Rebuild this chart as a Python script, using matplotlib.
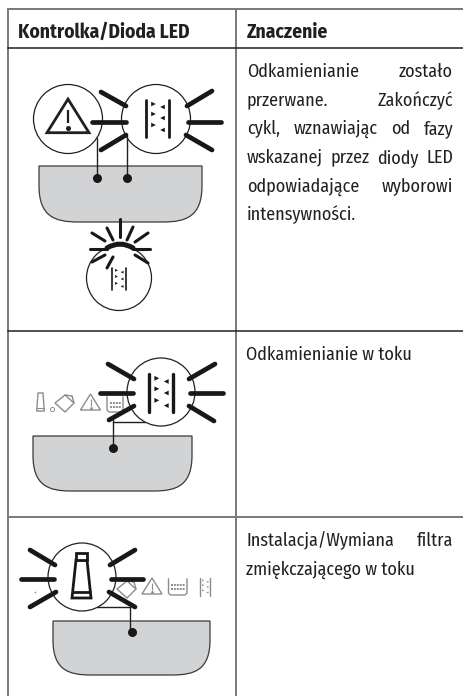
import matplotlib
matplotlib.use('Agg')
import matplotlib.pyplot as plt
import matplotlib.font_manager as fm
from matplotlib.patches import Circle, PathPatch, Polygon, Rectangle
from matplotlib.path import Path

# narrowest look available, Lato if no condensed face is there
names = {f.name for f in fm.fontManager.ttflist}
condensed = ['Fira Sans Condensed', 'Roboto Condensed', 'PT Sans Narrow', 'Archivo Narrow']
FONT = [n for n in condensed if n in names][:1] + ['Lato', 'DejaVu Sans']
TEXT_SIZE = 13.0 if FONT[0] != 'Lato' else 12.0
HEAD_SIZE = 14.0 if FONT[0] != 'Lato' else 14.0

headers = ['Kontrolka/Dioda LED', 'Znaczenie']
row1_lines = ['Odkamienianie zostało', 'przerwane. Zakończyć', 'cykl, wznawiając od fazy',
              'wskazanej przez diody LED', 'odpowiadające wyborowi', 'intensywności.']
row1_justified = [True, True, True, True, True, False]
row2_lines = ['Odkamienianie w toku']
row3_lines = ['Instalacja/Wymiana filtra', 'zmiękczającego w toku']
row3_justified = [True, False]

DARK = '#231f20'
BLACK = '#1a1718'
GREY = '#77787a'
LIGHT = '#8a8c8e'
PANEL = '#d1d3d4'

fig = plt.figure(figsize=(4.63, 6.96), dpi=100)
ax = fig.add_axes([0, 0, 1, 1])
ax.set_xlim(0, 463)
ax.set_ylim(696, 0)
ax.axis('off')


def seg(x0, y0, x1, y1, lw=3.4, color=BLACK, cap='round', z=5):
    ax.plot([x0, x1], [y0, y1], color=color, lw=lw, solid_capstyle=cap, zorder=z)


def dot(x, y):
    ax.plot([x], [y], 'o', ms=6.5, color=BLACK, mew=0, zorder=5)


def panel(x0, x1, top, bot):
    h = bot - top
    w = 0.24 * (x1 - x0)
    verts = [(x0, top), (x1, top), (x1, top + h * 0.35),
             (x1, top + h * 0.9), (x1 - w * 0.4, bot), (x1 - w, bot),
             (x0 + w, bot),
             (x0 + w * 0.4, bot), (x0, top + h * 0.9), (x0, top + h * 0.35),
             (x0, top)]
    codes = [Path.MOVETO, Path.LINETO, Path.LINETO, Path.CURVE4, Path.CURVE4, Path.CURVE4,
             Path.LINETO, Path.CURVE4, Path.CURVE4, Path.CURVE4, Path.CLOSEPOLY]
    ax.add_patch(PathPatch(Path(verts, codes), fc=PANEL, ec='#3a3a3c', lw=0.9, zorder=1))


def circle(x, y, r):
    ax.add_patch(Circle((x, y), r, fc='white', ec=DARK, lw=0.9, zorder=3))


def filter_icon(cx, cy, s, color=BLACK, lw=1.8, z=6):
    # two bars with little triangles between them
    hw, hh = 11.5 * s, 18.5 * s
    for x in (cx - hw, cx + hw):
        seg(x, cy - hh, x, cy + hh, lw=lw, color=color, z=z)
    tris = [(-4, -14, 1), (5, -11, -1), (-4, -4, 1), (5, 0, -1), (-4, 7, 1), (5, 12, -1)]
    for dx, dy, d in tris:
        x, y = cx + dx * s, cy + dy * s
        t = 2.3 * s
        ax.add_patch(Polygon([(x - t * d, y - t), (x + t * d, y), (x - t * d, y + t)],
                             fc=color, ec='none', zorder=z))


def warn_icon(cx, cy, s, color=DARK, lw=1.8, z=2.5):
    ax.add_patch(Polygon([(cx, cy - 18 * s), (cx + 20 * s, cy + 14 * s), (cx - 20 * s, cy + 14 * s)],
                         fc='white', ec=color, lw=lw, joinstyle='miter', zorder=z))
    seg(cx, cy - 8 * s, cx, cy + 5 * s, lw=lw * 0.8, color=color, cap='butt', z=z + 0.1)
    ax.plot([cx], [cy + 9.5 * s], 'o', ms=3 * s + 0.5, color=color, mew=0, zorder=z + 0.1)


def jug_icon(cx, cy, color=LIGHT):
    ax.add_patch(Polygon([(cx - 10, cy), (cx, cy - 8), (cx + 9, cy), (cx, cy + 9)],
                         fc='white', ec=color, lw=1.0, zorder=2))
    seg(cx, cy - 8, cx + 7, cy - 7, lw=1.0, color=color, z=2)
    seg(cx + 7, cy - 7, cx + 9, cy, lw=1.0, color=color, z=2)


def tank_icon(x0, x1, y0, y1, color=LIGHT):
    xs = [x0, x0, x0 + 2, x1 - 2, x1, x1]
    ys = [y0, y1 - 2, y1, y1, y1 - 2, y0]
    ax.plot(xs, ys, color=color, lw=1.0, zorder=2)
    for y in (y0 + 6, y0 + 9.5):
        ax.plot([x0 + 2.5, x1 - 2.5], [y, y], color=color, lw=1.4, ls=(0, (1, 0.5)), zorder=2)


def small_tube(cx, y0, y1, color=LIGHT):
    ax.add_patch(Polygon([(cx - 2.5, y0), (cx + 2.5, y0), (cx + 3.8, y1), (cx - 3.8, y1)],
                         fc='white', ec=color, lw=1.0, zorder=2))
    seg(cx - 3.8, y1 - 3, cx + 3.8, y1 - 3, lw=0.8, color=color, z=3)


def burst(rays):
    for r in rays:
        seg(*r)


def draw_text(x, y, line, justified, x1=453, size=TEXT_SIZE, weight='normal'):
    if not justified:
        ax.text(x, y, line, family=FONT, fontsize=size, weight=weight,
                color=DARK, va='baseline', ha='left', zorder=8)
        return
    words = line.split(' ')
    rend = fig.canvas.get_renderer()
    objs = [ax.text(x, y, w, family=FONT, fontsize=size, weight=weight,
                    color=DARK, va='baseline', ha='left', zorder=8) for w in words]
    widths = [o.get_window_extent(rend).width for o in objs]
    gap = (x1 - x - sum(widths)) / (len(words) - 1)
    cur = x
    for o, w in zip(objs, widths):
        o.set_x(cur)
        cur += w + gap


# table lines
ax.plot([7.5, 463], [9, 9], color=GREY, lw=1.4)
ax.plot([7.5, 7.5], [9, 696], color=GREY, lw=1.4)
ax.plot([236, 236], [9, 696], color=GREY, lw=1.4)
ax.plot([7.5, 463], [48, 48], color=DARK, lw=1.1)
ax.plot([7.5, 463], [331, 331], color=DARK, lw=1.1)
ax.plot([7.5, 463], [517, 517], color=GREY, lw=1.4)

# headers
draw_text(18, 37.5, headers[0], False, size=HEAD_SIZE, weight='bold')
draw_text(246.5, 37.5, headers[1], False, size=HEAD_SIZE, weight='bold')

# right column
for i, (line, j) in enumerate(zip(row1_lines, row1_justified)):
    draw_text(247, 77 + i * 28.6, line, j)
draw_text(246, 360, row2_lines[0], False)
for i, (line, j) in enumerate(zip(row3_lines, row3_justified)):
    draw_text(246, 546 + i * 29, line, j)

# row 1 drawing
panel(39, 202, 166, 222)
circle(68, 119, 34.5)
circle(156, 119, 34.5)
for x, y0 in ((97, 138), (127, 136)):
    seg(x, y0, x, 178, lw=1.0, color=DARK, z=4)
    dot(x, 178)
warn_icon(68, 118, 1.05, lw=2.0, z=4)
filter_icon(157.5, 118, 1.0, lw=2.0)
burst([(101, 92, 126, 106), (92, 122, 126, 122), (101, 150, 126, 135),
       (187, 106, 212, 91), (188, 122, 221, 122), (186, 135, 212, 150)])

# blinking indicator under the panel
circle(119, 278, 32.5)
filter_icon(119, 279, 0.62, lw=1.2)
for r in [(120, 219, 120, 237), (107, 228, 113, 240), (133, 227, 127, 240),
          (92, 233, 105, 241), (148, 233, 135, 242), (90, 249, 107, 249),
          (133, 249, 150, 249), (92, 262, 105, 255), (107, 268, 113, 257),
          (135, 255, 148, 263)]:
    seg(*r, lw=2.2)
ax.add_patch(PathPatch(Path([(107, 248), (120, 240), (133, 248)], [Path.MOVETO, Path.CURVE3, Path.CURVE3]),
                       fc='none', ec=BLACK, lw=3.6, capstyle='round', zorder=6))

# row 2 drawing
panel(33, 192, 436, 491)
small_tube(40.5, 393, 411)
jug_icon(65, 403)
ax.plot([52], [409], 'o', ms=3, mfc='white', mec=LIGHT, mew=0.7)
warn_icon(90.5, 403, 0.5, color=LIGHT, lw=1.0)
tank_icon(107, 123, 397, 412)
seg(112.5, 422, 145, 422, lw=1.0, color=DARK, z=2)
seg(112.5, 420, 112.5, 448, lw=1.0, color=DARK, z=2)
dot(112.5, 448)
circle(161, 392, 34)
filter_icon(161, 393, 1.05, lw=2.4)
burst([(108, 364, 134, 379), (100, 393, 133, 393), (109, 420, 134, 406),
       (189, 379, 215, 364), (190, 393, 223, 393), (189, 406, 214, 421)])

# row 3 drawing
panel(53, 210, 621, 675)
jug_icon(127, 589)
warn_icon(152, 587, 0.5, color=LIGHT, lw=1.0)
tank_icon(168.5, 187, 579, 595)
filter_icon(205, 587, 0.47, color=LIGHT, lw=1.0, z=2)
ax.plot([35], [592], 'o', ms=1.2, color=LIGHT, mew=0)
seg(97, 607, 130, 607, lw=1.0, color=DARK, z=2)
seg(130, 607, 130, 632, lw=1.0, color=DARK, z=2)
dot(132, 632)
circle(82, 577, 34)
ax.add_patch(Polygon([(76, 560), (87, 560), (91, 598), (72, 598)], fc='white', ec=BLACK, lw=2.0, zorder=6))
ax.add_patch(Rectangle((76, 553), 11, 7, fc='white', ec=BLACK, lw=2.0, zorder=6))
seg(72, 592, 91, 592, lw=2.0, cap='butt', z=7)
burst([(30, 550, 55, 565), (21, 579, 54, 579), (30, 607, 56, 592),
       (110, 565, 135, 550), (111, 579, 143, 579), (109, 592, 135, 607)])

fig.savefig('out.png', dpi=100)
